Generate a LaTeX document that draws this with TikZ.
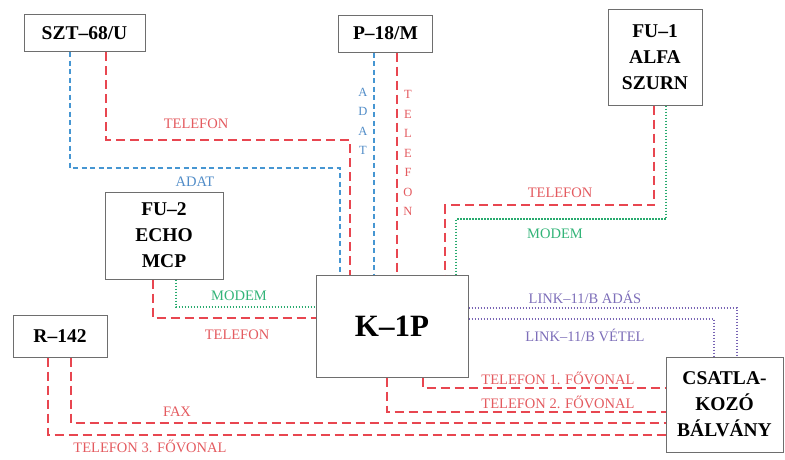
\documentclass[tikz,border=0pt]{standalone}
\usepackage{fontspec}
\setmainfont{Liberation Serif}
\definecolor{telred}{RGB}{232,70,80}
\definecolor{teltext}{RGB}{228,90,95}
\definecolor{adatblue}{RGB}{70,150,210}
\definecolor{adattext}{RGB}{80,140,200}
\definecolor{modemgreen}{RGB}{40,170,110}
\definecolor{modemtext}{RGB}{50,180,120}
\definecolor{linkpurple}{RGB}{120,100,180}
\definecolor{linktext}{RGB}{125,110,185}
\definecolor{boxgray}{RGB}{110,110,110}
\begin{document}
\begin{tikzpicture}[x=1pt,y=-1pt,
  box/.style={draw=boxgray,line width=1pt,fill=white,align=center,inner sep=0pt,
    font=\bfseries\fontsize{19.5}{26}\selectfont},
  tel/.style={draw=telred,line width=1.8pt,dash pattern=on 9pt off 5pt},
  adat/.style={draw=adatblue,line width=1.3pt,dash pattern=on 5pt off 3.5pt},
  modem/.style={draw=modemgreen,line width=1.6pt,dash pattern=on 1.5pt off 1.5pt},
  link/.style={draw=linkpurple,line width=1.6pt,dash pattern=on 1.5pt off 1.5pt},
  lbl/.style={inner sep=0pt,font=\fontsize{14.5}{17}\selectfont},
  vlbl/.style={inner sep=0pt,align=center,font=\fontsize{12.5}{19.5}\selectfont}]
\useasboundingbox[fill=white] (0,0) rectangle (785,459);
% boxes
\node[box,minimum width=121pt,minimum height=37pt] (szt) at (84.5,33) {SZT–68/U};
\node[box,minimum width=94pt,minimum height=37pt] (p18) at (385.5,33.5) {P–18/M};
\node[box,minimum width=94pt,minimum height=96pt] (fu1) at (655,57) {FU–1\\ALFA\\SZURN};
\node[box,minimum width=118pt,minimum height=87pt] (fu2) at (164,235.5) {FU–2\\ECHO\\MCP};
\node[box,minimum width=94pt,minimum height=42pt] (r142) at (60,336) {R–142};
\node[box,minimum width=152pt,minimum height=102pt,font=\bfseries\fontsize{31}{36}\selectfont] (k1p) at (392,326) {K–1P};
\node[box,minimum width=117pt,minimum height=95pt] (csat) at (724.5,404.5) {CSATLA-\\KOZÓ\\BÁLVÁNY};
% SZT-68/U
\draw[adat] (szt.south -| 70,0) |- (340,168) -- (k1p.north -| 340,0);
\draw[tel] (szt.south -| 106,0) |- (350,140) -- (k1p.north -| 350,0);
\node[lbl,text=teltext] (l1) at (196,124) {TELEFON};
\node[lbl,text=adattext] (l2) at (195,182) {ADAT};
% P-18/M
\draw[adat] (p18.south -| 374,0) -- (k1p.north -| 374,0);
\draw[tel] (p18.south -| 397,0) -- (k1p.north -| 397,0);
\node[vlbl,text=adattext] (l3) at (363,121.5) {A\\D\\A\\T};
\node[vlbl,text=teltext] (l4) at (408,153) {T\\E\\L\\E\\F\\O\\N};
% FU-1
\draw[tel] (fu1.south -| 654,0) |- (445,205) -- (k1p.north -| 445,0);
\draw[modem] (fu1.south -| 666,0) |- (456,219) -- (k1p.north -| 456,0);
\node[lbl,text=teltext] (l5) at (560,193) {TELEFON};
\node[lbl,text=modemtext] (l6) at (555,234) {MODEM};
% FU-2
\draw[modem] (fu2.south -| 176,0) |- (k1p.west |- 0,307);
\draw[tel] (fu2.south -| 153,0) |- (k1p.west |- 0,318);
\node[lbl,text=modemtext] (l7) at (239,296) {MODEM};
\node[lbl,text=teltext] (l8) at (237,335) {TELEFON};
% LINK-11/B
\draw[link] (k1p.east |- 0,308) -| (csat.north -| 737,0);
\draw[link] (k1p.east |- 0,319) -| (csat.north -| 714,0);
\node[lbl,text=linktext] (l9) at (585,297) {LINK–11/B ADÁS};
\node[lbl,text=linktext] (l10) at (585,335) {LINK–11/B VÉTEL};
% Trunk lines
\draw[tel] (k1p.south -| 423,0) |- (csat.west |- 0,388);
\draw[tel] (k1p.south -| 387,0) |- (csat.west |- 0,412);
\draw[tel] (r142.south -| 71,0) |- (csat.west |- 0,423);
\draw[tel] (r142.south -| 48,0) |- (csat.west |- 0,435);
\node[lbl,text=teltext] (l11) at (558,378) {TELEFON 1. FŐVONAL};
\node[lbl,text=teltext] (l12) at (558,402) {TELEFON 2. FŐVONAL};
\node[lbl,text=teltext] (l13) at (177,412) {FAX};
\node[lbl,text=teltext] (l14) at (150,446) {TELEFON 3. FŐVONAL};
\end{tikzpicture}
\end{document}
